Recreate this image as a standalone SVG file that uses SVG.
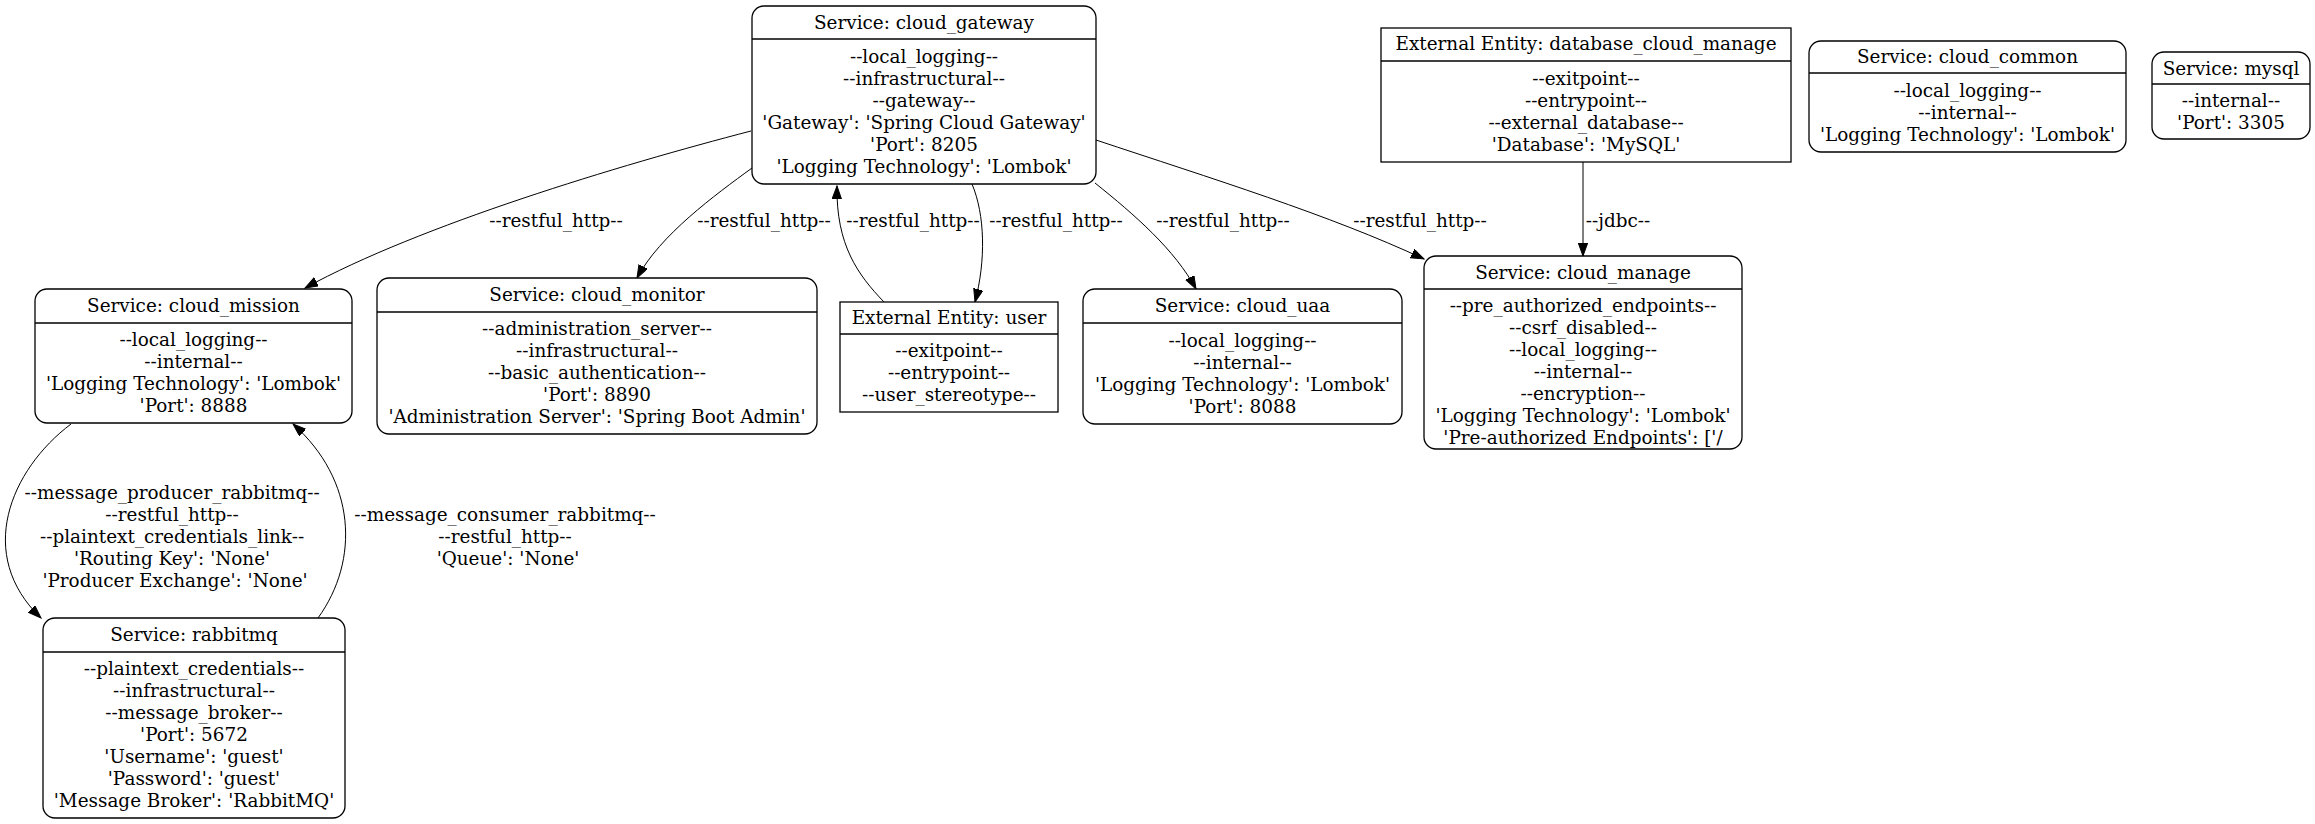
<svg xmlns="http://www.w3.org/2000/svg" width="2315" height="824" viewBox="0 0 2315 824">
  <style>
    text { font-family: "DejaVu Serif", "Liberation Serif", serif; font-size: 18.4px; fill: #000; text-anchor: middle; }
    .box { fill: #fff; stroke: #000; stroke-width: 1.3; }
    .sep { stroke: #000; stroke-width: 1.3; }
    .edge { fill: none; stroke: #000; stroke-width: 1; marker-end: url(#arrow); }
  </style>
  <defs>
    <marker id="arrow" markerUnits="userSpaceOnUse" markerWidth="14" markerHeight="10" refX="13" refY="4.7" orient="auto">
      <path d="M0,0 L13,4.7 L0,9.4 z" fill="#000" stroke="#000" stroke-width="1"/>
    </marker>
  </defs>
  <rect x="0" y="0" width="2315" height="824" fill="#fff"/>

  <!-- connectors -->
  <g id="edges">
    <path class="edge" d="M751,131 C620,165 420,225 305,288"/>
    <text x="556" y="227">--restful_http--</text>

    <path class="edge" d="M752,168 C715,195 660,235 637,278"/>
    <text x="764" y="227">--restful_http--</text>

    <path class="edge" d="M884,302 C858,275 836,245 837,186"/>
    <text x="913" y="227">--restful_http--</text>

    <path class="edge" d="M972,184 C985,215 986,260 975,302"/>
    <text x="1056" y="227">--restful_http--</text>

    <path class="edge" d="M1095,183 C1135,215 1175,250 1196,289"/>
    <text x="1223" y="227">--restful_http--</text>

    <path class="edge" d="M1096,140 C1210,178 1330,215 1424,259"/>
    <text x="1420" y="227">--restful_http--</text>

    <path class="edge" d="M1583,162 L1583,256"/>
    <text x="1618" y="227">--jdbc--</text>

    <path class="edge" d="M71,424 C10,470 -25,555 41,618"/>
    <text x="175">
      <tspan x="175" y="499">--message_producer_rabbitmq--</tspan>
      <tspan x="175" y="521">--restful_http--</tspan>
      <tspan x="175" y="543">--plaintext_credentials_link--</tspan>
      <tspan x="175" y="565">'Routing Key': 'None'</tspan>
      <tspan x="175" y="587">'Producer Exchange': 'None'</tspan>
    </text>

    <path class="edge" d="M318,618 C360,560 356,480 293,424"/>
    <text x="508">
      <tspan x="508" y="521">--message_consumer_rabbitmq--</tspan>
      <tspan x="508" y="543">--restful_http--</tspan>
      <tspan x="508" y="565">'Queue': 'None'</tspan>
    </text>
  </g>

  <!-- services -->
  <g id="cloud_gateway">
    <rect class="box" x="752" y="6" width="344" height="178" rx="12"/>
    <line class="sep" x1="752" y1="39" x2="1096" y2="39"/>
    <text x="924" y="28.5">Service: cloud_gateway</text>
    <text x="924" y="62.5">--local_logging--</text>
    <text x="924" y="84.5">--infrastructural--</text>
    <text x="924" y="106.5">--gateway--</text>
    <text x="924" y="128.5">'Gateway': 'Spring Cloud Gateway'</text>
    <text x="924" y="150.5">'Port': 8205</text>
    <text x="924" y="172.5">'Logging Technology': 'Lombok'</text>
  </g>

  <g id="database_cloud_manage">
    <rect class="box" x="1381" y="28" width="410" height="134"/>
    <line class="sep" x1="1381" y1="61" x2="1791" y2="61"/>
    <text x="1586" y="50">External Entity: database_cloud_manage</text>
    <text x="1586" y="84.5">--exitpoint--</text>
    <text x="1586" y="106.5">--entrypoint--</text>
    <text x="1586" y="128.5">--external_database--</text>
    <text x="1586" y="150.5">'Database': 'MySQL'</text>
  </g>

  <g id="cloud_common">
    <rect class="box" x="1809" y="41" width="317" height="111" rx="12"/>
    <line class="sep" x1="1809" y1="73" x2="2126" y2="73"/>
    <text x="1967.5" y="62.5">Service: cloud_common</text>
    <text x="1967.5" y="96.5">--local_logging--</text>
    <text x="1967.5" y="118.5">--internal--</text>
    <text x="1967.5" y="140.5">'Logging Technology': 'Lombok'</text>
  </g>

  <g id="mysql">
    <rect class="box" x="2152" y="52" width="158" height="87" rx="12"/>
    <line class="sep" x1="2152" y1="84" x2="2310" y2="84"/>
    <text x="2231" y="74.5">Service: mysql</text>
    <text x="2231" y="106.5">--internal--</text>
    <text x="2231" y="128.5">'Port': 3305</text>
  </g>

  <g id="cloud_mission">
    <rect class="box" x="35" y="289" width="317" height="134" rx="12"/>
    <line class="sep" x1="35" y1="323" x2="352" y2="323"/>
    <text x="193.5" y="312">Service: cloud_mission</text>
    <text x="193.5" y="346">--local_logging--</text>
    <text x="193.5" y="368">--internal--</text>
    <text x="193.5" y="390">'Logging Technology': 'Lombok'</text>
    <text x="193.5" y="412">'Port': 8888</text>
  </g>

  <g id="cloud_monitor">
    <rect class="box" x="377" y="278" width="440" height="156" rx="12"/>
    <line class="sep" x1="377" y1="312" x2="817" y2="312"/>
    <text x="597" y="301">Service: cloud_monitor</text>
    <text x="597" y="335">--administration_server--</text>
    <text x="597" y="357">--infrastructural--</text>
    <text x="597" y="379">--basic_authentication--</text>
    <text x="597" y="401">'Port': 8890</text>
    <text x="597" y="423">'Administration Server': 'Spring Boot Admin'</text>
  </g>

  <g id="user">
    <rect class="box" x="840" y="302" width="218" height="110"/>
    <line class="sep" x1="840" y1="334" x2="1058" y2="334"/>
    <text x="949" y="324">External Entity: user</text>
    <text x="949" y="357">--exitpoint--</text>
    <text x="949" y="379">--entrypoint--</text>
    <text x="949" y="401">--user_stereotype--</text>
  </g>

  <g id="cloud_uaa">
    <rect class="box" x="1083" y="289" width="319" height="135" rx="12"/>
    <line class="sep" x1="1083" y1="323" x2="1402" y2="323"/>
    <text x="1242.5" y="312">Service: cloud_uaa</text>
    <text x="1242.5" y="346.5">--local_logging--</text>
    <text x="1242.5" y="368.5">--internal--</text>
    <text x="1242.5" y="390.5">'Logging Technology': 'Lombok'</text>
    <text x="1242.5" y="412.5">'Port': 8088</text>
  </g>

  <g id="cloud_manage">
    <rect class="box" x="1424" y="256" width="318" height="193" rx="12"/>
    <line class="sep" x1="1424" y1="289" x2="1742" y2="289"/>
    <text x="1583" y="278.5">Service: cloud_manage</text>
    <text x="1583" y="311.5">--pre_authorized_endpoints--</text>
    <text x="1583" y="333.5">--csrf_disabled--</text>
    <text x="1583" y="355.5">--local_logging--</text>
    <text x="1583" y="377.5">--internal--</text>
    <text x="1583" y="399.5">--encryption--</text>
    <text x="1583" y="421.5">'Logging Technology': 'Lombok'</text>
    <text x="1583" y="443.5">'Pre-authorized Endpoints': ['/</text>
  </g>

  <g id="rabbitmq">
    <rect class="box" x="43" y="618" width="302" height="200" rx="12"/>
    <line class="sep" x1="43" y1="652" x2="345" y2="652"/>
    <text x="194" y="641">Service: rabbitmq</text>
    <text x="194" y="675">--plaintext_credentials--</text>
    <text x="194" y="697">--infrastructural--</text>
    <text x="194" y="719">--message_broker--</text>
    <text x="194" y="741">'Port': 5672</text>
    <text x="194" y="763">'Username': 'guest'</text>
    <text x="194" y="785">'Password': 'guest'</text>
    <text x="194" y="807">'Message Broker': 'RabbitMQ'</text>
  </g>
</svg>
